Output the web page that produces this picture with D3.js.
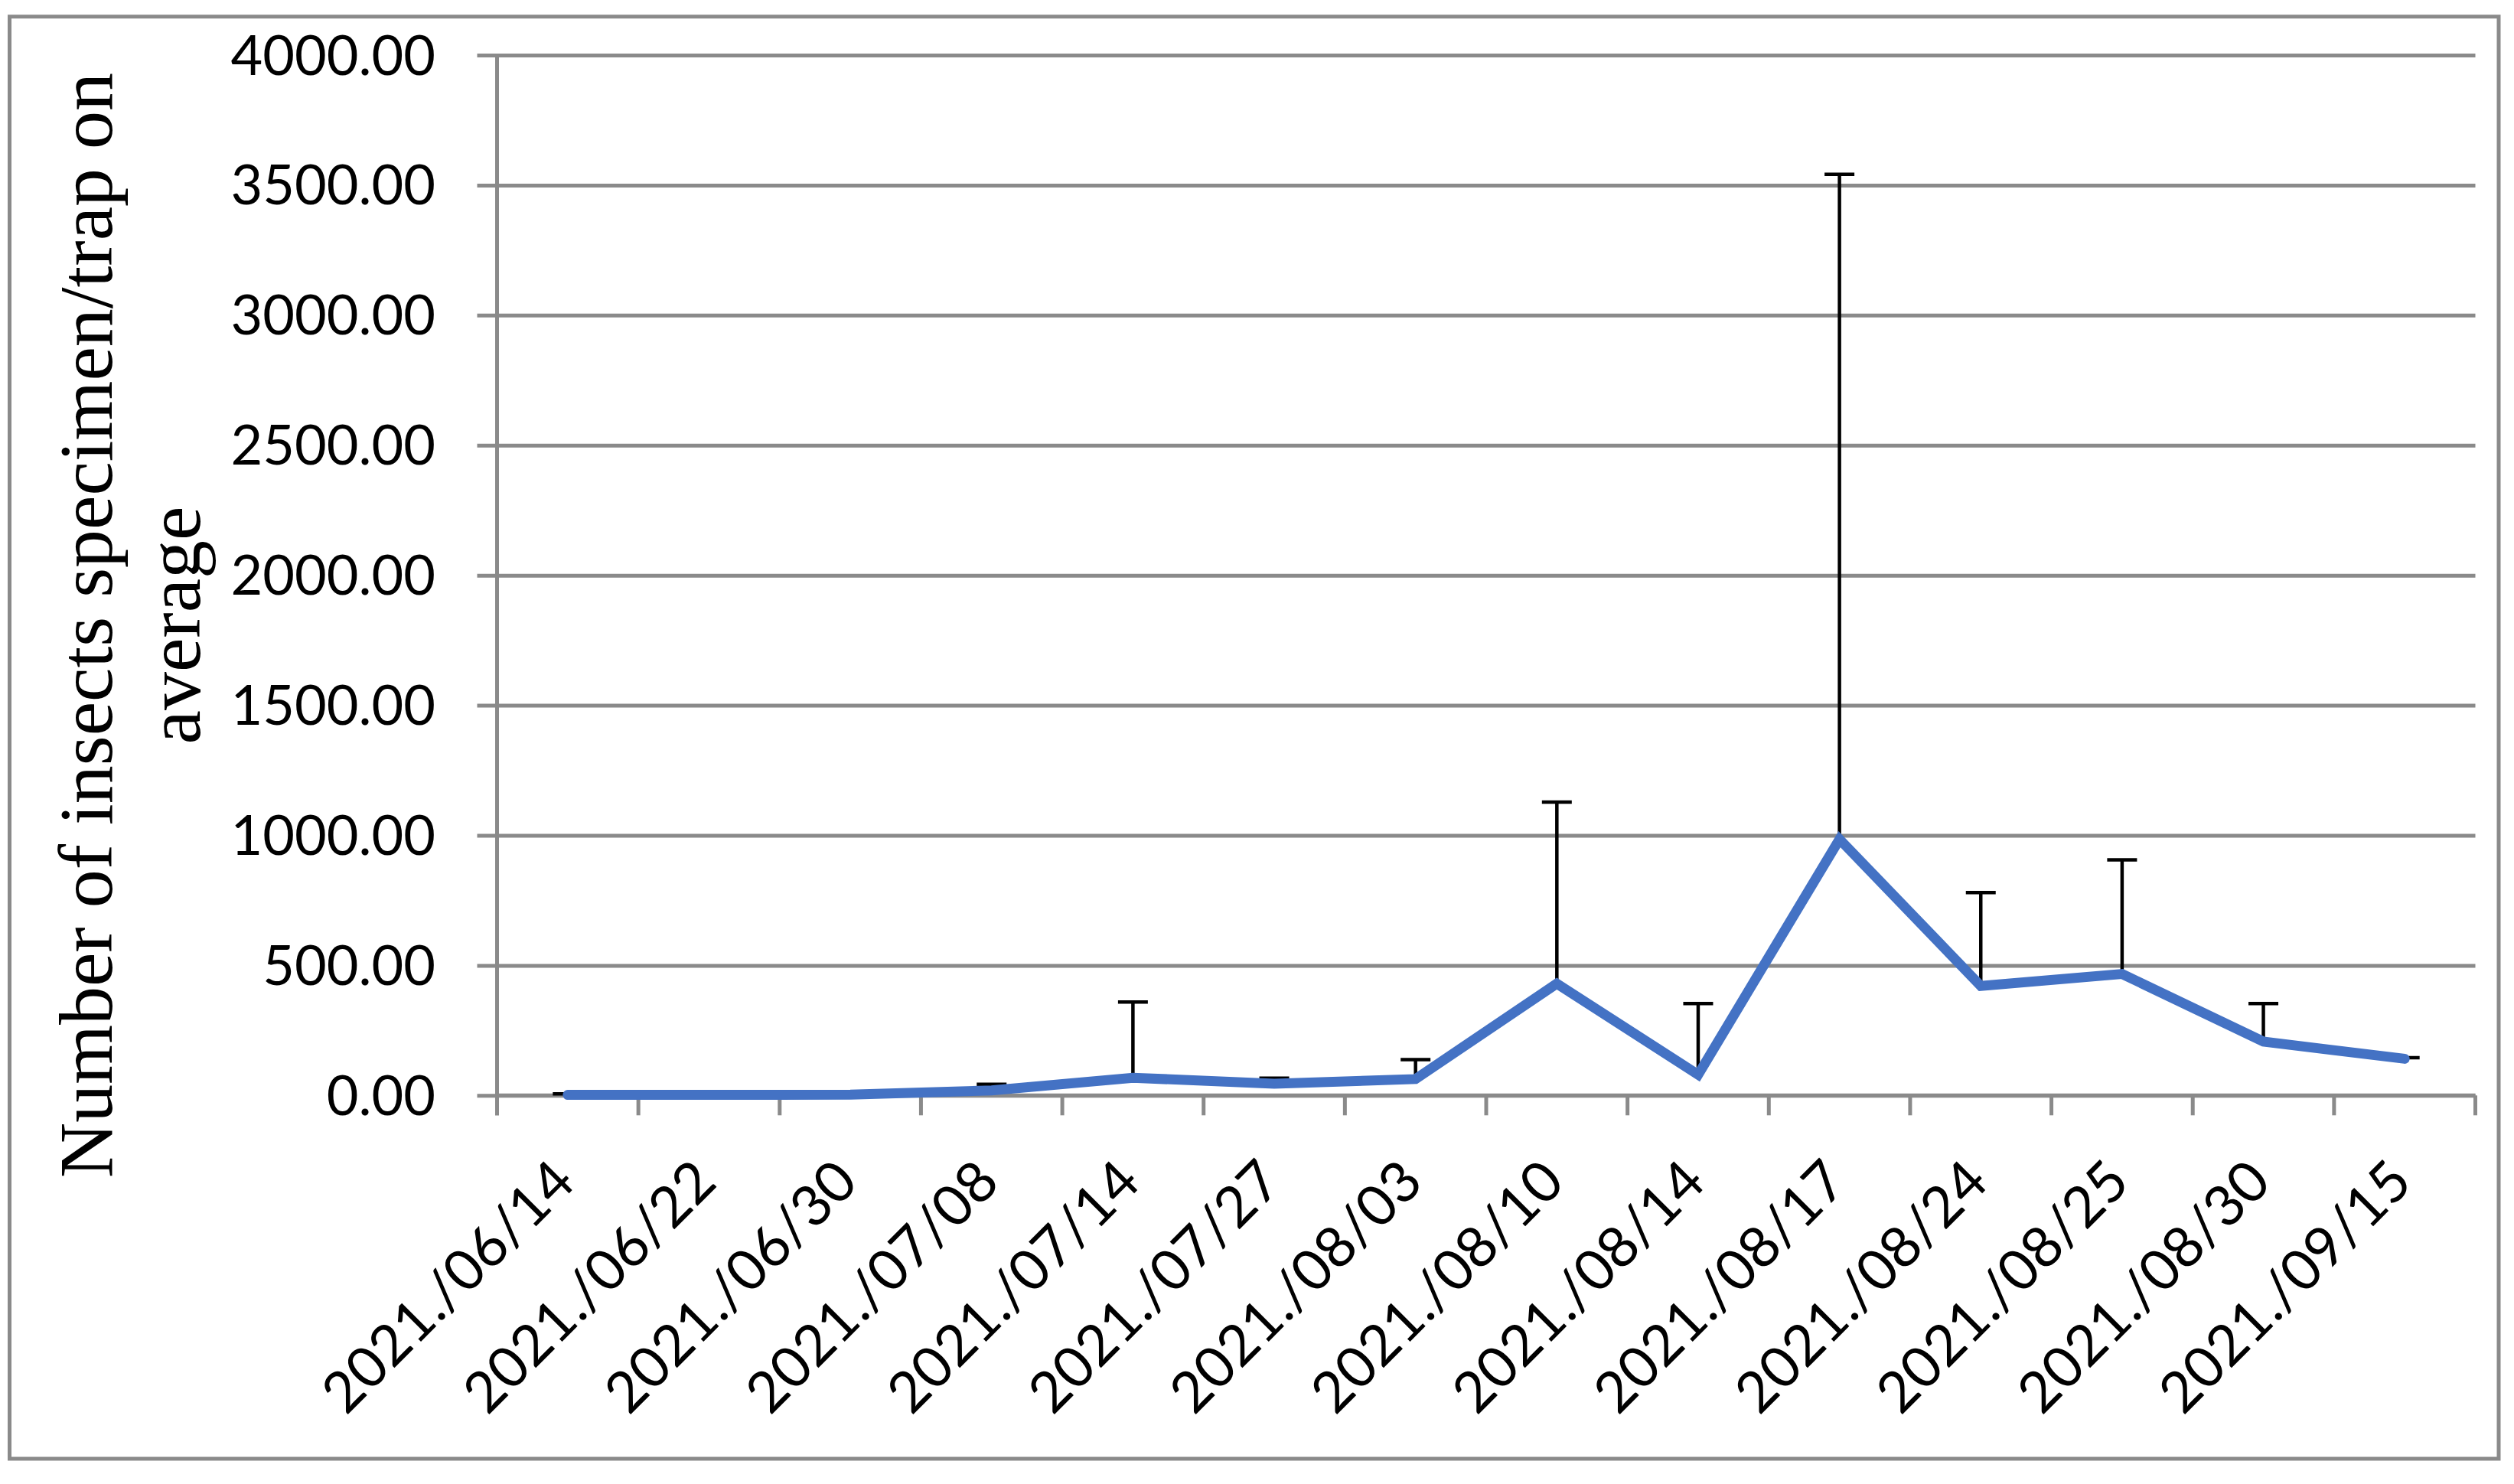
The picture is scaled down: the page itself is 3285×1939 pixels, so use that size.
<!DOCTYPE html>
<html>
<head>
<meta charset="utf-8">
<script src="https://cdn.jsdelivr.net/npm/d3@7"></script>
<style>
  html, body { margin: 0; padding: 0; background: #ffffff; }
  svg { display: block; }
</style>
</head>
<body>
<div id="chart"></div>
<script>
// ---- data ----
const categories = ["2021./06/14","2021./06/22","2021./06/30","2021./07/08","2021./07/14","2021./07/27","2021./08/03","2021./08/10","2021./08/14","2021./08/17","2021./08/24","2021./08/25","2021./08/30","2021./09/15"];
const means  = [2, 2, 3, 19, 68, 45, 63, 430, 80, 985, 421, 467, 207, 141];
const errors = [4, 0, 0, 24, 291, 21, 75, 698, 273, 2557, 359, 439, 146, 4];
const yTicks = [0, 500, 1000, 1500, 2000, 2500, 3000, 3500, 4000];
const yTitleLines = ["Number of insects specimen/trap on", "average"];

// ---- layout ----
const W = 3285, H = 1939;
const plot = { left: 649.5, right: 3234.5, top: 72, bottom: 1431.3 };
const gridColor = "#8a8a8a";
const tickLen = 26;

const svg = d3.select("#chart").append("svg")
  .attr("width", W).attr("height", H)
  .attr("viewBox", `0 0 ${W} ${H}`);

// outer frame
svg.append("rect")
  .attr("x", 12.5).attr("y", 21.7)
  .attr("width", 3265 - 12.5).attr("height", 1906 - 21.7)
  .attr("fill", "#fff").attr("stroke", gridColor).attr("stroke-width", 5);

const x = d3.scaleBand().domain(categories).range([plot.left, plot.right]).padding(0);
const y = d3.scaleLinear().domain([0, 4000]).range([plot.bottom, plot.top]);

// y axis with gridlines (ticks extend across the plot and outward to the left)
const yAxis = d3.axisLeft(y)
  .tickValues(yTicks)
  .tickSize(-(plot.right - plot.left))
  .tickFormat(d3.format(".2f"));

const yG = svg.append("g")
  .attr("transform", `translate(${plot.left},0)`)
  .call(yAxis);
yG.select(".domain").remove();
yG.selectAll(".tick line")
  .attr("x1", -tickLen)
  .attr("stroke", gridColor).attr("stroke-width", 5);
yG.selectAll(".tick text")
  .attr("x", -(plot.left - 569))
  .attr("dy", null)
  .attr("y", 25)
  .attr("fill", "#000")
  .style("font-family", "Lato, 'Open Sans', sans-serif")
  .style("font-size", "72px");

// vertical axis line
svg.append("line")
  .attr("x1", plot.left).attr("x2", plot.left)
  .attr("y1", plot.top).attr("y2", plot.bottom + tickLen)
  .attr("stroke", gridColor).attr("stroke-width", 5);

// x axis: category labels at band centres
const xAxis = d3.axisBottom(x).tickSize(0).tickFormat(d => d);
const xG = svg.append("g")
  .attr("transform", `translate(0,${plot.bottom})`)
  .call(xAxis);
xG.select(".domain")
  .attr("d", `M${plot.left},0H${plot.right}`)
  .attr("stroke", gridColor).attr("stroke-width", 5);
xG.selectAll(".tick line").remove();
xG.selectAll(".tick text")
  .attr("y", 0).attr("dy", null)
  .attr("text-anchor", "end")
  .attr("transform", `translate(13,${1548 - plot.bottom}) rotate(-45)`)
  .attr("fill", "#000")
  .style("font-family", "Lato, 'Open Sans', sans-serif")
  .style("font-size", "74px");

// tick marks at band boundaries
const boundaries = categories.map(c => x(c)).concat([x.range()[1]]);
svg.append("g").selectAll("line").data(boundaries).join("line")
  .attr("x1", d => d).attr("x2", d => d)
  .attr("y1", plot.bottom).attr("y2", plot.bottom + tickLen)
  .attr("stroke", gridColor).attr("stroke-width", 5);

// error bars (positive direction only)
const cx = c => x(c) + x.bandwidth() / 2;
const eb = svg.append("g");
categories.forEach((c, i) => {
  const x0 = cx(c), yv = y(means[i]), ye = y(means[i] + errors[i]);
  eb.append("line")
    .attr("x1", x0).attr("x2", x0).attr("y1", yv).attr("y2", ye)
    .attr("stroke", "#000").attr("stroke-width", 4.5);
  eb.append("line")
    .attr("x1", x0 - 19.5).attr("x2", x0 + 19.5).attr("y1", ye).attr("y2", ye)
    .attr("stroke", "#000").attr("stroke-width", 4.5);
});

// series line
const line = d3.line()
  .x((d, i) => cx(categories[i]))
  .y(d => y(d));
svg.append("path")
  .datum(means)
  .attr("d", line)
  .attr("fill", "none")
  .attr("stroke", "#4472C4")
  .attr("stroke-width", 13)
  .attr("stroke-linecap", "round")
  .attr("stroke-linejoin", "miter")
  .attr("stroke-miterlimit", 10);

// y axis title
const title = svg.append("text")
  .attr("transform", "translate(146,817) rotate(-90)")
  .attr("text-anchor", "middle")
  .attr("fill", "#000")
  .style("font-family", "'Liberation Serif', 'Times New Roman', serif")
  .style("font-size", "100px");
yTitleLines.forEach((t, i) => {
  title.append("tspan").attr("x", 0).attr("y", i * 115).text(t);
});
</script>
</body>
</html>
